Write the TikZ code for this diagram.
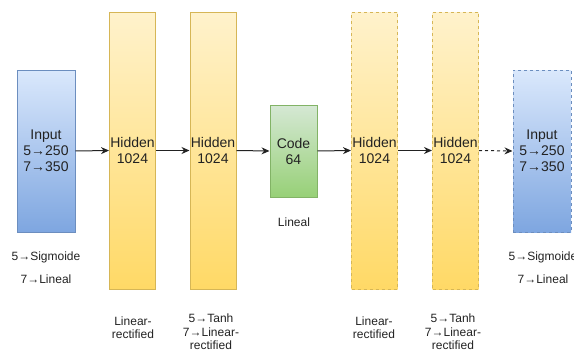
\documentclass[tikz,border=0pt]{standalone}
\usepackage{fontspec}
\setmainfont{Liberation Sans}
\usetikzlibrary{arrows.meta}
\definecolor{txt}{HTML}{222222}
\definecolor{blueTop}{HTML}{DAE8FC}
\definecolor{blueBot}{HTML}{7EA6E0}
\definecolor{blueLine}{HTML}{6C8EBF}
\definecolor{yelTop}{HTML}{FFF2CC}
\definecolor{yelBot}{HTML}{FFD966}
\definecolor{yelLine}{HTML}{D6B656}
\definecolor{grnTop}{HTML}{D5E8D4}
\definecolor{grnBot}{HTML}{97D077}
\definecolor{grnLine}{HTML}{82B366}
\tikzset{
  layer/.style={draw, line width=1pt, rectangle, inner sep=0pt, align=center,
    text=txt, font=\fontsize{14}{16}\selectfont},
  inbox/.style={layer, draw=blueLine, top color=blueTop, bottom color=blueBot,
    minimum width=58pt, minimum height=162pt},
  hidbox/.style={layer, draw=yelLine, top color=yelTop, bottom color=yelBot,
    minimum width=46pt, minimum height=277pt},
  codebox/.style={layer, draw=grnLine, top color=grnTop, bottom color=grnBot,
    minimum width=47pt, minimum height=92pt},
  ghost/.style={dash pattern=on 3pt off 3pt},
  note/.style={align=center, text=txt, font=\fontsize{12}{13.5}\selectfont, inner sep=0pt},
  link/.style={draw=txt, line width=1pt, -{Stealth[length=8pt,width=7pt]}}
}
\begin{document}
\begin{tikzpicture}[x=1pt,y=-1pt]
\useasboundingbox (0,0) rectangle (574,351);

% encoder
\node[inbox] (in) at (46,151) {Input\\5→250\\7→350};
\node[hidbox] (h1) at (132.5,150.5) {Hidden\\1024};
\node[hidbox] (h2) at (213,150.5) {Hidden\\1024};
\node[codebox] (code) at (293.5,151) {Code\\64};

% decoder
\node[hidbox, ghost] (h3) at (374.5,150.5) {Hidden\\1024};
\node[hidbox, ghost] (h4) at (455.5,150.5) {Hidden\\1024};
\node[inbox, ghost] (out) at (542,151) {Input\\5→250\\7→350};

% connections
\draw[link] (in.east) -- (h1.west);
\draw[link] (h1.east) -- (h2.west);
\draw[link] (h2.east) -- (code.west);
\draw[link] (code.east) -- (h3.west);
\draw[link] (h3.east) -- (h4.west);
\draw[link, ghost] (h4.east) -- (out.west);

% activation notes
\node[note] (a0) at (46,267.5) {5→Sigmoide\\[9.5pt]7→Lineal};
\node[note] (a1) at (133,327.5) {Linear-\\rectified};
\node[note] (a2) at (211,332) {5→Tanh\\7→Linear-\\rectified};
\node[note] (ac) at (294,222) {Lineal};
\node[note] (a3) at (374,327.5) {Linear-\\rectified};
\node[note] (a4) at (453,332) {5→Tanh\\7→Linear-\\rectified};
\node[note] (a5) at (543,267.5) {5→Sigmoide\\[9.5pt]7→Lineal};
\end{tikzpicture}
\end{document}
